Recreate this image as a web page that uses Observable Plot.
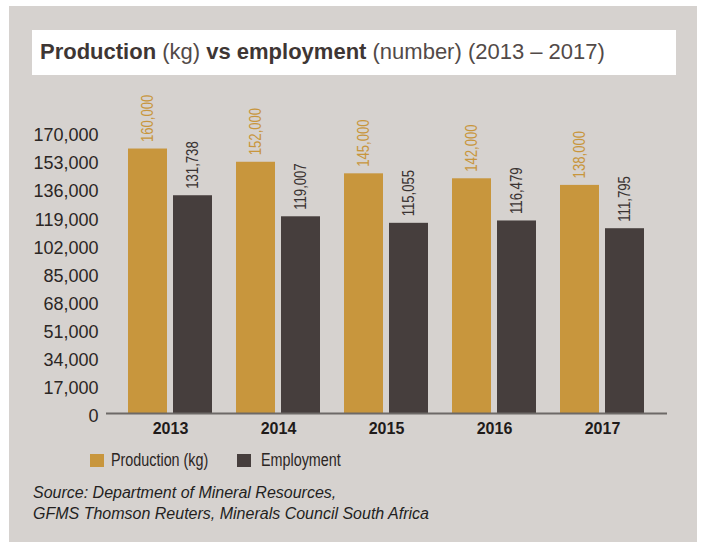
<!DOCTYPE html>
<html>
<head>
<meta charset="utf-8">
<script src="https://cdn.jsdelivr.net/npm/d3@7"></script>
<script src="https://cdn.jsdelivr.net/npm/@observablehq/plot@0.6"></script>
<style>
  html, body { margin: 0; padding: 0; background: #ffffff; }
  body { width: 702px; height: 542px; position: relative; overflow: hidden; font-family: "Liberation Sans", Arial, sans-serif; }
  #panel { position: absolute; left: 9px; top: 6px; width: 688px; height: 536px; background: #d6d2cf; }
  #title { position: absolute; left: 32px; top: 30px; width: 644px; height: 45px; background: #ffffff; box-sizing: border-box; padding-left: 8px; line-height: 44px; font-size: 22px; color: #524a48; white-space: nowrap; }
  #title b { font-weight: bold; color: #3e3634; }
  #chart { position: absolute; left: 0; top: 0; }
  #legend { position: absolute; left: 0; top: 0; font-size: 17.5px; color: #2b2624; }
  .sw { position: absolute; width: 14px; height: 13px; top: 454px; }
  .lt { position: absolute; top: 450px; line-height: 21px; white-space: nowrap; transform: scaleX(0.82); transform-origin: left center; }
  #source { position: absolute; left: 33px; top: 482px; font-style: italic; font-size: 16px; line-height: 21px; color: #231f1e; }
</style>
</head>
<body>
<div id="panel"></div>
<div id="title"><b>Production</b> (kg) <b>vs employment</b> (number) (2013 – 2017)</div>
<div id="chart"></div>
<div id="legend"></div>
<div id="source">Source: Department of Mineral Resources,<br>GFMS Thomson Reuters, Minerals Council South Africa</div>
<script>
const years = ["2013", "2014", "2015", "2016", "2017"];
const production = [160000, 152000, 145000, 142000, 138000];
const employment = [131738, 119007, 115055, 116479, 111795];
const yTicks = [0, 17000, 34000, 51000, 68000, 85000, 102000, 119000, 136000, 153000, 170000];
const seriesNames = ["Production (kg)", "Employment"];
const seriesColors = ["#c8963d", "#463e3d"];

const data = years.map((year, i) => ({year, production: production[i], employment: employment[i]}));
const fmt = v => v.toLocaleString("en-US");

const chart = Plot.plot({
  width: 702,
  height: 445,
  marginTop: 132,
  marginBottom: 32,
  marginLeft: 106,
  marginRight: 35,
  style: {background: "transparent", fontFamily: "'Liberation Sans', Arial, sans-serif", color: "#2b2624", overflow: "visible"},
  x: {domain: years, paddingInner: 0.2222, paddingOuter: 0.2083, axis: null},
  y: {domain: [0, 170000], axis: null},
  marks: [
    Plot.axisY({ticks: yTicks, tickSize: 0, tickPadding: 8, fontSize: 18, fill: "#2b2624", dy: 3, tickFormat: fmt, label: null}),
    Plot.axisX({tickSize: 0, tickPadding: 9, fontSize: 16, fontWeight: "bold", fill: "#1f1b1a", label: null}),
    Plot.barY(data, {x: "year", y: "production", fill: seriesColors[0], insetRight: 45}),
    Plot.barY(data, {x: "year", y: "employment", fill: seriesColors[1], insetLeft: 45}),
    Plot.ruleY([0], {stroke: "#6d6967", strokeWidth: 2}),
    Plot.text(data, {x: "year", y: "production", text: d => fmt(d.production), rotate: -90, textAnchor: "start", dx: -22.5, dy: -7, fill: seriesColors[0], fontSize: 16, className: "vlabel"}),
    Plot.text(data, {x: "year", y: "employment", text: d => fmt(d.employment), rotate: -90, textAnchor: "start", dx: 22.5, dy: -7, fill: "#3a3332", fontSize: 16, className: "vlabel"})
  ]
});
document.getElementById("chart").appendChild(chart);

// condense the value labels (the reference uses a narrow face)
chart.querySelectorAll(".vlabel text").forEach(t => {
  const len = t.getComputedTextLength();
  t.setAttribute("lengthAdjust", "spacingAndGlyphs");
  t.setAttribute("textLength", (len * 0.82).toFixed(2));
});

const legend = document.getElementById("legend");
const swatchX = [90, 236.7];
const textX = [110.7, 260.7];
seriesNames.forEach((name, i) => {
  const sw = document.createElement("span");
  sw.className = "sw";
  sw.style.left = swatchX[i] + "px";
  sw.style.background = seriesColors[i];
  legend.appendChild(sw);
  const lt = document.createElement("span");
  lt.className = "lt";
  lt.style.left = textX[i] + "px";
  lt.textContent = name;
  legend.appendChild(lt);
});
</script>
</body>
</html>
